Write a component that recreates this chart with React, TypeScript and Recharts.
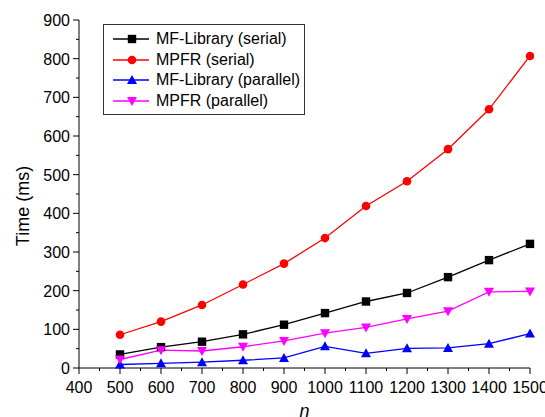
import React from "react";
import { LineChart, Line, XAxis, YAxis } from "recharts";

const nValues = [500, 600, 700, 800, 900, 1000, 1100, 1200, 1300, 1400, 1500];
const mfSerial = [35, 54, 68, 87, 112, 142, 172, 194, 235, 279, 321];
const mpfrSerial = [86, 120, 163, 216, 270, 336, 419, 483, 566, 669, 807];
const mfParallel = [9, 12, 15, 20, 26, 56, 38, 51, 52, 63, 89];
const mpfrParallel = [22, 46, 44, 55, 70, 90, 105, 127, 147, 197, 198];

const xTicks = [400, 450, 500, 550, 600, 650, 700, 750, 800, 850, 900, 950, 1000, 1050, 1100, 1150, 1200, 1250, 1300, 1350, 1400, 1450, 1500];
const yTicks = [0, 50, 100, 150, 200, 250, 300, 350, 400, 450, 500, 550, 600, 650, 700, 750, 800, 850, 900];

const data = nValues.map((n, i) => ({
  n,
  mfSerial: mfSerial[i],
  mpfrSerial: mpfrSerial[i],
  mfParallel: mfParallel[i],
  mpfrParallel: mpfrParallel[i],
}));

const FONT = "'Liberation Sans', Arial, sans-serif";

type Shape = "square" | "circle" | "up" | "down";

function marker(shape: Shape, cx: number, cy: number, color: string, key?: string) {
  const s = 4.2;
  if (shape === "square") return <rect key={key} x={cx - s} y={cy - s} width={2 * s} height={2 * s} fill={color} />;
  if (shape === "circle") return <circle key={key} cx={cx} cy={cy} r={4.3} fill={color} />;
  if (shape === "up")
    return <polygon key={key} points={`${cx},${cy - 5} ${cx - 5},${cy + 4} ${cx + 5},${cy + 4}`} fill={color} />;
  return <polygon key={key} points={`${cx},${cy + 5} ${cx - 5},${cy - 4} ${cx + 5},${cy - 4}`} fill={color} />;
}

const makeDot = (shape: Shape, color: string) => (props: any) =>
  marker(shape, props.cx, props.cy, color, `${shape}-${props.index}`);

const series = [
  { key: "mfSerial", name: "MF-Library (serial)", color: "#000000", shape: "square" as Shape },
  { key: "mpfrSerial", name: "MPFR (serial)", color: "#ff0000", shape: "circle" as Shape },
  { key: "mfParallel", name: "MF-Library (parallel)", color: "#0000ff", shape: "up" as Shape },
  { key: "mpfrParallel", name: "MPFR (parallel)", color: "#ff00ff", shape: "down" as Shape },
];

function YTick(props: any) {
  const { x, y, payload } = props;
  const major = payload.value % 100 === 0;
  return (
    <g>
      <line x1={x} x2={x - (major ? 6 : 3)} y1={y} y2={y} stroke="#000" strokeWidth={1} />
      {major && (
        <text x={x - 9} y={y + 6} textAnchor="end" fontSize={16} fontFamily={FONT} fill="#000">
          {payload.value}
        </text>
      )}
    </g>
  );
}

function XTick(props: any) {
  const { x, y, payload } = props;
  const major = payload.value % 100 === 0;
  return (
    <g>
      <line x1={x} x2={x} y1={y} y2={y + (major ? 6 : 3)} stroke="#000" strokeWidth={1} />
      {major && (
        <text x={x} y={y + 25} textAnchor="middle" fontSize={16} fontFamily={FONT} fill="#000">
          {payload.value}
        </text>
      )}
    </g>
  );
}

function YLabel(props: any) {
  const { viewBox } = props;
  const cx = viewBox.x + 23;
  const cy = viewBox.y + viewBox.height / 2 + 12;
  return (
    <text
      x={cx}
      y={cy}
      transform={`rotate(-90, ${cx}, ${cy})`}
      textAnchor="middle"
      dominantBaseline="central"
      fontSize={18}
      fontFamily={FONT}
      fill="#000"
    >
      Time (ms)
    </text>
  );
}

function LegendBox() {
  return (
    <div
      style={{
        position: "absolute",
        left: 103,
        top: 24,
        border: "1px solid #333",
        background: "#fff",
        width: 200,
        padding: "4px 0 3px 0",
        fontFamily: FONT,
        fontSize: 16,
        color: "#000",
      }}
    >
      {series.map((s) => (
        <div key={s.key} style={{ display: "flex", alignItems: "center", height: 20.5 }}>
          <svg width={50} height={20} style={{ flex: "none" }}>
            <line x1={9} x2={45} y1={10} y2={10} stroke={s.color} strokeWidth={1.3} />
            {marker(s.shape, 28, 10, s.color)}
          </svg>
          <span style={{ marginLeft: 2, whiteSpace: "nowrap" }}>{s.name}</span>
        </div>
      ))}
    </div>
  );
}

export default function App() {
  return (
    <div style={{ position: "absolute", left: 0, top: 0, width: 545, height: 417, background: "#fff" }}>
      <LineChart width={545} height={417} data={data} margin={{ top: 20, right: 15, left: 0, bottom: 0 }}>
        <XAxis
          dataKey="n"
          type="number"
          domain={[400, 1500]}
          ticks={xTicks}
          interval={0}
          tickSize={0}
          tickMargin={0}
          tickLine={false}
          tick={<XTick />}
          height={49}
          axisLine={{ stroke: "#000", strokeWidth: 1 }}
          label={{ value: "n", position: "insideBottom", offset: 0, fontSize: 18, fontStyle: "italic", fontFamily: FONT, fill: "#000" }}
        />
        <YAxis
          type="number"
          domain={[0, 900]}
          ticks={yTicks}
          interval={0}
          tickSize={0}
          tickMargin={0}
          tickLine={false}
          tick={<YTick />}
          width={79}
          axisLine={{ stroke: "#000", strokeWidth: 1 }}
          label={<YLabel />}
        />
        {series.map((s) => (
          <Line
            key={s.key}
            dataKey={s.key}
            name={s.name}
            stroke={s.color}
            strokeWidth={1.3}
            type="linear"
            dot={makeDot(s.shape, s.color)}
            activeDot={false}
            isAnimationActive={false}
          />
        ))}
      </LineChart>
      <LegendBox />
    </div>
  );
}
